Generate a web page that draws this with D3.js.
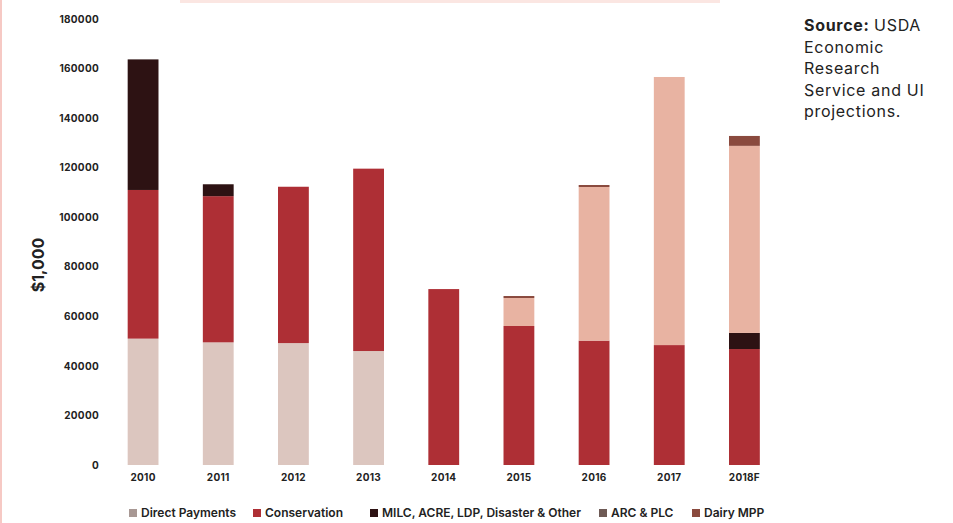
<!DOCTYPE html>
<html>
<head>
<meta charset="utf-8">
<script src="https://cdn.jsdelivr.net/npm/d3@7"></script>
<style>
  html, body { margin: 0; padding: 0; background: #fff; }
  svg { display: block; }
  text { font-family: Inter, "Noto Sans", sans-serif; }
</style>
</head>
<body>
<svg id="chart" width="953" height="523"></svg>
<script>
// Farm program payments by year ($1,000)
const years = ["2010", "2011", "2012", "2013", "2014", "2015", "2016", "2017", "2018F"];
const directPayments = [51000, 49500, 49200, 46000, 0, 0, 0, 0, 0];
const conservation   = [60000, 59000, 63100, 73600, 71000, 56100, 50200, 48400, 46800];
const milcOther      = [52700, 4800, 0, 0, 0, 0, 0, 0, 6500];
const arcPlc         = [0, 0, 0, 0, 0, 11300, 62000, 108200, 75500];
const dairyMpp       = [0, 0, 0, 0, 0, 800, 800, 0, 4000];
const seriesNames = ["Direct Payments", "Conservation", "MILC, ACRE, LDP, Disaster & Other", "ARC & PLC", "Dairy MPP"];
const yTicks = [0, 20000, 40000, 60000, 80000, 100000, 120000, 140000, 160000, 180000];

const colors = ["#dcc6bf", "#ae2f35", "#2d1213", "#e8b3a2", "#8a4a3e"];
// legend swatches are printed as small patterned squares
const swatchColors = ["#a89894", "#ae2f35", "#2d1213", "#6e5a55", "#8a4a3e"];
const seriesValues = [directPayments, conservation, milcOther, arcPlc, dairyMpp];
const keys = seriesNames;

const rows = years.map((yr, i) => {
  const r = { year: yr };
  keys.forEach((k, j) => { r[k] = seriesValues[j][i]; });
  return r;
});

const svg = d3.select("#chart");

// faint page edges
svg.append("rect").attr("x", 0).attr("y", 0).attr("width", 2).attr("height", 523).attr("fill", "#f6c9c4");
svg.append("rect").attr("x", 180).attr("y", 0).attr("width", 540).attr("height", 3).attr("fill", "#fbe6e2");

const x = d3.scaleBand().domain(years).range([105.5, 782]).paddingInner(0.59).paddingOuter(0.295);
const y = d3.scaleLinear().domain([0, 180000]).range([465, 19]);

const stacked = d3.stack().keys(keys)(rows);

svg.append("g").selectAll("g")
  .data(stacked)
  .join("g")
  .attr("fill", (d, i) => colors[i])
  .selectAll("rect")
  .data(d => d.filter(s => s[1] - s[0] > 0))
  .join("rect")
  .attr("x", d => x(d.data.year))
  .attr("width", x.bandwidth())
  .attr("y", d => y(d[1]))
  .attr("height", d => y(d[0]) - y(d[1]));

// y axis
const yAxis = d3.axisLeft(y).tickValues(yTicks).tickSize(0).tickPadding(0).tickFormat(d3.format("d"));
const gy = svg.append("g").attr("transform", "translate(99,0)").call(yAxis);
gy.select(".domain").remove();
gy.selectAll("text")
  .attr("font-size", 10).attr("font-weight", 700).attr("fill", "#222")
  .attr("letter-spacing", "0.3px");

// x axis
const xAxis = d3.axisBottom(x).tickSize(0).tickPadding(0);
const gx = svg.append("g").attr("transform", "translate(0,474)").call(xAxis);
gx.select(".domain").remove();
gx.selectAll("text")
  .attr("font-size", 10).attr("font-weight", 700).attr("fill", "#222")
  .attr("letter-spacing", "0.3px");

// y axis title
svg.append("text")
  .attr("transform", "translate(44,265) rotate(-90)")
  .attr("text-anchor", "middle")
  .attr("font-size", 16).attr("font-weight", 700).attr("fill", "#222")
  .text("$1,000");

// legend
const legendX = [129, 253, 370, 599, 692];
const lg = svg.append("g").attr("transform", "translate(0,515)");
seriesNames.forEach((name, i) => {
  lg.append("rect").attr("x", legendX[i]).attr("y", -6).attr("width", 8).attr("height", 8).attr("fill", swatchColors[i]);
  lg.append("text").attr("x", legendX[i] + 12).attr("y", 2)
    .attr("font-size", 12).attr("font-weight", 600).attr("fill", "#222")
    .text(name);
});

// source note
const srcLines = ["USDA", "Economic", "Research", "Service and UI", "projections."];
const src = svg.append("text").attr("x", 804).attr("y", 31)
  .attr("font-size", 16).attr("fill", "#222").attr("letter-spacing", "0.7px");
src.append("tspan").attr("font-weight", 700).text("Source: ");
src.append("tspan").text(srcLines[0]);
srcLines.slice(1).forEach((t, i) => {
  svg.append("text").attr("x", 804).attr("y", 31 + (i + 1) * 21.5)
    .attr("font-size", 16).attr("fill", "#222").attr("letter-spacing", "0.7px").text(t);
});
</script>
</body>
</html>
